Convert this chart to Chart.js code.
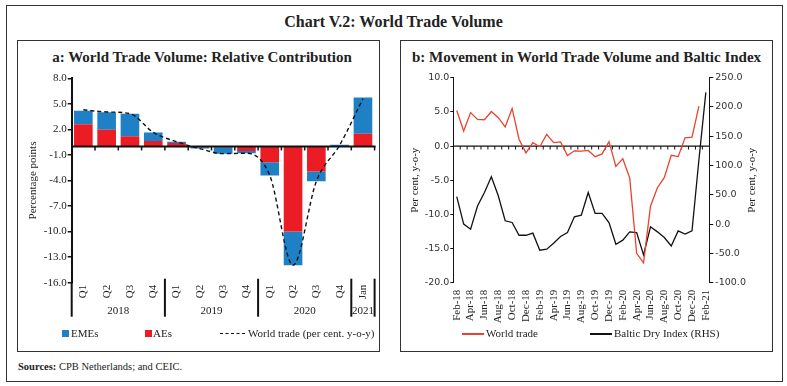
<!DOCTYPE html>
<html>
<head>
<meta charset="utf-8">
<script src="https://cdn.jsdelivr.net/npm/chart.js@4.4.1/dist/chart.umd.min.js"></script>
<style>
  body { margin: 0; width: 787px; height: 386px; background: #fff; position: relative; overflow: hidden;
         font-family: 'Liberation Serif', 'DejaVu Serif', serif; color: #222; }
  .box { position: absolute; border: 1.5px solid #333; box-sizing: border-box; }
  .ttl { position: absolute; font-weight: bold; white-space: nowrap; text-align: center; }
  .lg { position: absolute; font-size: 11px; white-space: nowrap; line-height: 14px; }
  .sw { position: absolute; width: 7px; height: 7px; }
  .ln { position: absolute; height: 0; }
  .sl { position: absolute; height: 1.5px; }
  canvas { position: absolute; }
</style>
</head>
<body>
<div class="box" style="left:6px;top:5px;width:777px;height:377px;"></div>
<div class="ttl" style="left:0;width:787px;top:13px;font-size:16px;">Chart V.2: World Trade Volume</div>

<div class="box" style="left:17px;top:40px;width:363px;height:312px;"></div>
<div class="ttl" style="left:17px;width:370px;top:49px;font-size:15px;">a: World Trade Volume: Relative Contribution</div>
<div style="position:absolute;left:17px;top:66px;width:362px;height:262px;"><canvas id="chartA"></canvas></div>

<div class="box" style="left:400px;top:40px;width:373px;height:312px;"></div>
<div class="ttl" style="left:400px;width:373px;top:49px;font-size:15px;">b: Movement in World Trade Volume and Baltic Index</div>
<div style="position:absolute;left:400px;top:66px;width:372px;height:262px;"><canvas id="chartB"></canvas></div>

<!-- legend a -->
<div class="sw" style="left:62px;top:330px;background:#1f80c6;"></div>
<div class="lg" style="left:71px;top:326px;">EMEs</div>
<div class="sw" style="left:145px;top:330px;background:#ec1c24;"></div>
<div class="lg" style="left:153px;top:326px;">AEs</div>
<div class="ln" style="left:220px;top:333px;width:25px;border-top:1.3px dashed #111;"></div>
<div class="lg" style="left:248px;top:326px;">World trade (per cent. y-o-y)</div>

<!-- legend b -->
<div class="sl" style="left:462px;top:333px;width:22px;background:#e9422e;"></div>
<div class="lg" style="left:486px;top:326px;">World trade</div>
<div class="sl" style="left:590px;top:333px;width:22px;background:#111;"></div>
<div class="lg" style="left:614px;top:326px;">Baltic Dry Index (RHS)</div>

<div class="lg" style="left:18px;top:360px;font-size:10.5px;"><b>Sources:</b> CPB Netherlands; and CEIC.</div>

<script>
// panel a: quarterly contributions (percentage points)
const quarterLabels = ['Q1', 'Q2', 'Q3', 'Q4', 'Q1', 'Q2', 'Q3', 'Q4', 'Q1', 'Q2', 'Q3', 'Q4', 'Jan'];
const yearLabels = ['2018', '2019', '2020', '2021'];
const yearSpans = [4, 4, 4, 1];
const aesValues = [2.6, 1.95, 1.2, 0.65, 0.4, -0.1, -0.1, -0.55, -1.85, -10.0, -2.95, 0.0, 1.5];
const emesValues = [1.6, 2.05, 2.65, 1.0, 0.15, -0.15, -0.75, -0.25, -1.55, -3.95, -1.15, 0.2, 4.25];
const worldTradeQtr = [4.3, 4.05, 3.85, 1.65, 0.55, -0.25, -0.85, -0.8, -3.4, -13.95, -4.1, 0.15, 5.6];

// panel b: monthly y-o-y
const monthLabels = ['Feb-18', 'Mar-18', 'Apr-18', 'May-18', 'Jun-18', 'Jul-18', 'Aug-18', 'Sep-18', 'Oct-18', 'Nov-18', 'Dec-18',
  'Jan-19', 'Feb-19', 'Mar-19', 'Apr-19', 'May-19', 'Jun-19', 'Jul-19', 'Aug-19', 'Sep-19', 'Oct-19', 'Nov-19', 'Dec-19',
  'Jan-20', 'Feb-20', 'Mar-20', 'Apr-20', 'May-20', 'Jun-20', 'Jul-20', 'Aug-20', 'Sep-20', 'Oct-20', 'Nov-20', 'Dec-20',
  'Jan-21', 'Feb-21'];
const worldTradeMonthly = [5.2, 2.2, 4.9, 3.9, 3.85, 5.05, 4.15, 2.8, 5.5, 1.0, -1.0, 0.5, -0.1, 1.7, 0.5, 0.6, -1.4, -0.7,
  -0.75, -0.65, -1.55, -1.15, 0.65, -3.0, -1.85, -4.7, -15.7, -17.1, -8.8, -6.1, -4.6, -1.35, -1.55, 1.2, 1.3, 5.85, null];
const balticIndex = [47, 0, -8.6, 31, 54, 81, 48.5, 5.7, 2.8, -19, -19, -15.4, -44.5, -42.8, -32.6, -21.2, -14.3, 12.5,
  15.4, 54, 18.2, 18.2, 2.8, -34.3, -27.4, -13.2, -14.3, -52.6, -4.6, -13.2, -22.9, -37.2, -11.5, -17.1, -11.5, 110, 225];

Chart.defaults.font.family = "'Liberation Serif', 'DejaVu Serif', serif";
Chart.defaults.color = '#222';
Chart.defaults.animation = false;

// zero line, boundary ticks, year groups for panel a
const yearGroups = {
  id: 'yearGroups',
  afterDraw(chart) {
    const { ctx, chartArea, scales: { x, y } } = chart;
    const y0 = y.getPixelForValue(0);
    const half = (x.getPixelForValue(1) - x.getPixelForValue(0)) / 2;
    const sepBottom = chartArea.bottom + 34;
    ctx.save();
    ctx.strokeStyle = '#111';
    ctx.lineWidth = 2;
    ctx.beginPath();
    ctx.moveTo(chartArea.left, y0);
    ctx.lineTo(chartArea.right + 1, y0);
    ctx.stroke();
    ctx.lineWidth = 1.5;
    for (let i = 0; i < quarterLabels.length; i += 1) {
      const px = x.getPixelForValue(i) + half;
      ctx.beginPath();
      ctx.moveTo(px, y0);
      ctx.lineTo(px, y0 + 4);
      ctx.stroke();
    }
    ctx.lineWidth = 2;
    ctx.beginPath();
    ctx.moveTo(chartArea.left, chartArea.bottom);
    ctx.lineTo(chartArea.left, sepBottom);
    ctx.stroke();
    ctx.fillStyle = '#222';
    ctx.font = "11px 'Liberation Serif', serif";
    ctx.textAlign = 'center';
    ctx.textBaseline = 'middle';
    let start = 0;
    yearLabels.forEach((yr, k) => {
      const end = start + yearSpans[k] - 1;
      const xl = x.getPixelForValue(start) - half;
      const xr = x.getPixelForValue(end) + half;
      ctx.fillText(yr, (xl + xr) / 2, chartArea.bottom + 28);
      ctx.beginPath();
      ctx.moveTo(xr, chartArea.bottom - 4);
      ctx.lineTo(xr, sepBottom);
      ctx.stroke();
      start = end + 1;
    });
    ctx.restore();
  }
};

new Chart(document.getElementById('chartA'), {
  type: 'bar',
  data: {
    labels: quarterLabels,
    datasets: [
      { label: 'AEs', data: aesValues, backgroundColor: '#ec1c24', stack: 'c', order: 2 },
      { label: 'EMEs', data: emesValues, backgroundColor: '#1f80c6', stack: 'c', order: 2 },
      {
        type: 'line', label: 'World trade (per cent. y-o-y)', data: worldTradeQtr, stack: 'w', order: 0,
        borderColor: '#111', borderWidth: 1.4, borderDash: [4, 3], pointRadius: 0,
        cubicInterpolationMode: 'monotone', fill: false
      }
    ]
  },
  options: {
    responsive: true,
    maintainAspectRatio: false,
    categoryPercentage: 0.8,
    barPercentage: 1.0,
    layout: { padding: { top: 12.3, right: 4.4, left: 0, bottom: 0 } },
    plugins: { legend: { display: false }, tooltip: { enabled: false } },
    scales: {
      x: {
        stacked: true,
        grid: { display: false, drawTicks: false },
        border: { display: false },
        ticks: { minRotation: 90, maxRotation: 90, autoSkip: false, padding: 2, font: { size: 11 } },
        afterFit: (s) => { s.height = 45.3; }
      },
      y: {
        stacked: true,
        min: -16,
        max: 8,
        ticks: { stepSize: 3, padding: 1, font: { size: 11 }, callback: (v) => v.toFixed(1) },
        grid: { drawOnChartArea: false, drawTicks: true, tickLength: 4, color: '#111', lineWidth: 1.5 },
        border: { display: true, color: '#111', width: 2 },
        title: { display: true, text: 'Percentage points', font: { size: 11 }, padding: { top: 9.7, bottom: 0 } },
        afterFit: (s) => { s.width = 54.7; }
      }
    }
  },
  plugins: [yearGroups]
});

// zero line with monthly ticks, right axis title for panel b
const zeroLineB = {
  id: 'zeroLineB',
  beforeDatasetsDraw(chart) {
    const { ctx, chartArea, scales: { x, y } } = chart;
    const y0 = y.getPixelForValue(0);
    const half = (x.getPixelForValue(1) - x.getPixelForValue(0)) / 2;
    ctx.save();
    ctx.strokeStyle = '#111';
    ctx.lineWidth = 1.3;
    ctx.beginPath();
    ctx.moveTo(chartArea.left, y0);
    ctx.lineTo(chartArea.right, y0);
    ctx.stroke();
    ctx.lineWidth = 1;
    for (let i = 0; i < monthLabels.length - 1; i += 1) {
      const px = x.getPixelForValue(i) + half;
      ctx.beginPath();
      ctx.moveTo(px, y0);
      ctx.lineTo(px, y0 + 3.5);
      ctx.stroke();
    }
    ctx.restore();
  },
  afterDraw(chart) {
    const { ctx, chartArea } = chart;
    ctx.save();
    ctx.translate(chartArea.right + 42.4, (chartArea.top + chartArea.bottom) / 2);
    ctx.rotate(-Math.PI / 2);
    ctx.fillStyle = '#222';
    ctx.font = "11px 'Liberation Serif', serif";
    ctx.textAlign = 'center';
    ctx.textBaseline = 'middle';
    ctx.fillText('Per cent, y-o-y', 0, 0);
    ctx.restore();
  }
};

new Chart(document.getElementById('chartB'), {
  type: 'line',
  data: {
    labels: monthLabels,
    datasets: [
      { label: 'World trade', data: worldTradeMonthly, borderColor: '#e9422e', borderWidth: 1.3, pointRadius: 0, yAxisID: 'y' },
      { label: 'Baltic Dry Index (RHS)', data: balticIndex, borderColor: '#111', borderWidth: 1.3, pointRadius: 0, yAxisID: 'y1' }
    ]
  },
  options: {
    responsive: true,
    maintainAspectRatio: false,
    layout: { padding: { top: 11.7, right: 0, left: 0, bottom: 0 } },
    plugins: { legend: { display: false }, tooltip: { enabled: false } },
    scales: {
      x: {
        offset: true,
        grid: { display: false, drawTicks: false },
        border: { display: false },
        ticks: {
          minRotation: 90, maxRotation: 90, autoSkip: false, padding: 7, font: { size: 11 },
          callback: (v, i) => (i % 2 === 0 ? monthLabels[i] : '')
        },
        afterFit: (s) => { s.height = 45.3; }
      },
      y: {
        position: 'left',
        min: -20,
        max: 10,
        ticks: { stepSize: 5, padding: 1, color: '#333', font: { family: "'DejaVu Sans', sans-serif", size: 9.5 }, callback: (v) => v.toFixed(1) },
        grid: { drawOnChartArea: false, drawTicks: true, tickLength: 3, color: '#111' },
        border: { display: true, color: '#111', width: 1 },
        title: { display: true, text: 'Per cent, y-o-y', font: { size: 11 }, padding: { top: 8.4, bottom: 0 } },
        afterFit: (s) => { s.width = 53.3; }
      },
      y1: {
        position: 'right',
        min: -100,
        max: 250,
        ticks: { stepSize: 50, padding: 2, color: '#333', font: { family: "'DejaVu Sans', sans-serif", size: 9.5 }, callback: (v) => v.toFixed(1) },
        grid: { drawOnChartArea: false, drawTicks: true, tickLength: 4, color: '#111' },
        border: { display: true, color: '#111', width: 1 },
        afterFit: (s) => { s.width = 62.7; }
      }
    }
  },
  plugins: [zeroLineB]
});
</script>
</body>
</html>
